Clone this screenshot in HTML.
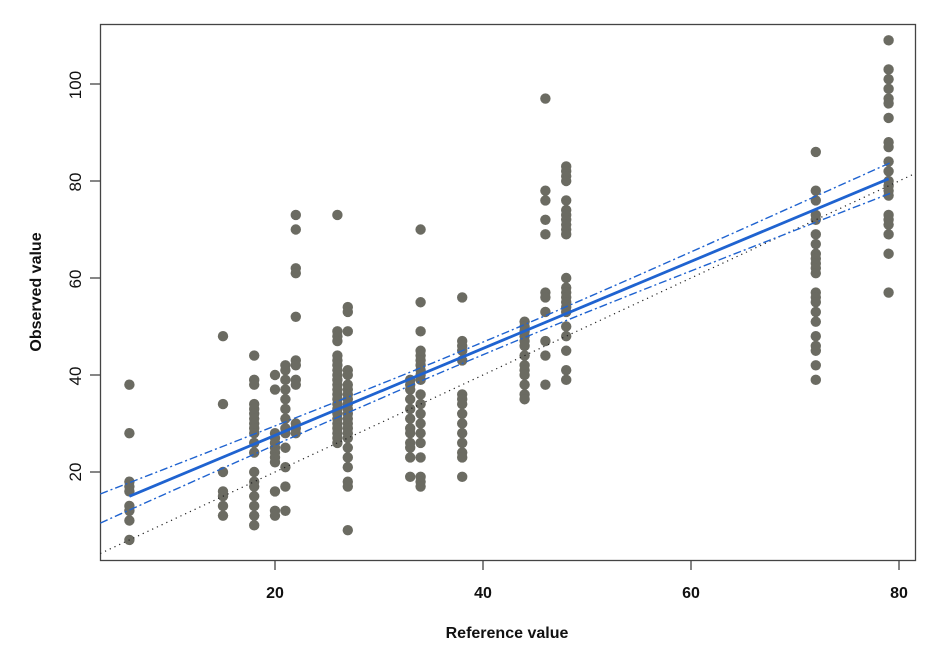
<!DOCTYPE html>
<html><head><meta charset="utf-8"><style>body{margin:0;background:#fff}svg{display:block}text{font-family:"Liberation Sans",Arial,sans-serif;font-weight:bold;fill:#111}text.yt{font-weight:normal}</style></head>
<body>
<svg id="s" width="940" height="660" xmlns="http://www.w3.org/2000/svg">
<rect x="100.5" y="24.5" width="815" height="536" fill="none" stroke="#444" stroke-width="1.3"/>
<g id="ticks" stroke="#444" stroke-width="1.3"></g>
<g font-size="16">
<text x="275" y="598" text-anchor="middle">20</text>
<text x="483" y="598" text-anchor="middle">40</text>
<text x="691" y="598" text-anchor="middle">60</text>
<text x="899" y="598" text-anchor="middle">80</text>
</g>
<g font-size="17">
<text class="yt" transform="translate(81,472) rotate(-90)" text-anchor="middle">20</text>
<text class="yt" transform="translate(81,376) rotate(-90)" text-anchor="middle">40</text>
<text class="yt" transform="translate(81,279) rotate(-90)" text-anchor="middle">60</text>
<text class="yt" transform="translate(81,182) rotate(-90)" text-anchor="middle">80</text>
<text class="yt" transform="translate(81,85) rotate(-90)" text-anchor="middle">100</text>
</g>
<text x="507" y="638" font-size="16" text-anchor="middle">Reference value</text>
<text transform="translate(41,292) rotate(-90)" font-size="16" text-anchor="middle">Observed value</text>
<g id="pts" fill="#6b6b62"></g>
<g id="lines"></g>
</svg>
<script>
var X=function(v){return 67+10.4*v},Y=function(v){return 569-4.85*v};
var ns="http://www.w3.org/2000/svg",s=document.getElementById('s');
var tk=document.getElementById('ticks');
[20,40,60,80].forEach(function(v){var l=document.createElementNS(ns,'line');l.setAttribute('x1',X(v));l.setAttribute('x2',X(v));l.setAttribute('y1',560);l.setAttribute('y2',570);tk.appendChild(l);});
[20,40,60,80,100].forEach(function(v){var l=document.createElementNS(ns,'line');l.setAttribute('x1',90);l.setAttribute('x2',100);l.setAttribute('y1',Y(v));l.setAttribute('y2',Y(v));tk.appendChild(l);});
var d={6:[38,28,18,17,16,13,12,10,6],15:[48,34,20,16,15,13,11],
18:[44,39,38,34,33,32,31,30,29,28,26,24,20,18,17,15,13,11,9],
20:[40,37,28,27,26,25,24,23,22,16,12,11],
21:[42,41,39,37,35,33,31,29,28,25,21,17,12],
22:[73,70,62,61,52,43,42,39,38,30,29,28],
26:[73,49,48,47,44,43,42,41,40,39,38,37,36,35,34,33,32,31,30,29,28,27,26],
27:[54,53,49,41,40,38,37,36,35,34,33,32,31,30,29,28,27,25,23,21,18,17,8],
33:[39,38,37,35,33,31,29,28,26,25,23,19],
34:[70,55,49,45,44,43,42,41,40,39,36,34,32,30,28,26,23,19,18,17],
38:[56,47,46,45,43,36,35,34,32,30,28,26,24,23,19],
44:[51,50,49,48,47,46,44,42,41,40,38,36,35],
46:[97,78,76,72,69,57,56,53,47,44,38],
48:[83,82,81,80,76,74,73,72,71,70,69,60,58,57,56,55,54,53,50,48,45,41,39],
72:[86,78,76,73,72,69,67,65,64,63,62,61,57,56,55,53,51,48,46,45,42,39],
79:[109,103,101,99,97,96,93,88,87,84,82,80,79,78,77,73,72,71,69,65,57]};
var g=document.getElementById('pts');
for(var k in d)d[k].forEach(function(v){var c=document.createElementNS(ns,'circle');c.setAttribute('cx',X(+k));c.setAttribute('cy',Y(v));c.setAttribute('r',5.2);g.appendChild(c);});
var L=document.getElementById('lines');
function path(pts,st,w,da){var p=document.createElementNS(ns,'path');p.setAttribute('d','M'+pts.map(function(q){return X(q[0]).toFixed(1)+','+Y(q[1]).toFixed(1)}).join(' L'));p.setAttribute('fill','none');p.setAttribute('stroke',st);p.setAttribute('stroke-width',w);if(da)p.setAttribute('stroke-dasharray',da);L.appendChild(p);}
path([[3.2,3.2],[81.5,81.5]],'#222',1.2,'1.2,4');
function f(x){return 9.6+0.897*x}function h(x){return Math.sqrt(1.69+0.0054*(x-40)*(x-40))}
var up=[],lo=[];for(var x=3.2;x<=80.01;x+=1){up.push([x,f(x)+h(x)]);lo.push([x,f(x)-h(x)]);}
path(up,'#1f63d0',1.4,'8,3,2,3');path(lo,'#1f63d0',1.4,'8,3,2,3');
path([[6,f(6)],[79,f(79)]],'#1f63d0',2.8);
</script>
</body></html>
